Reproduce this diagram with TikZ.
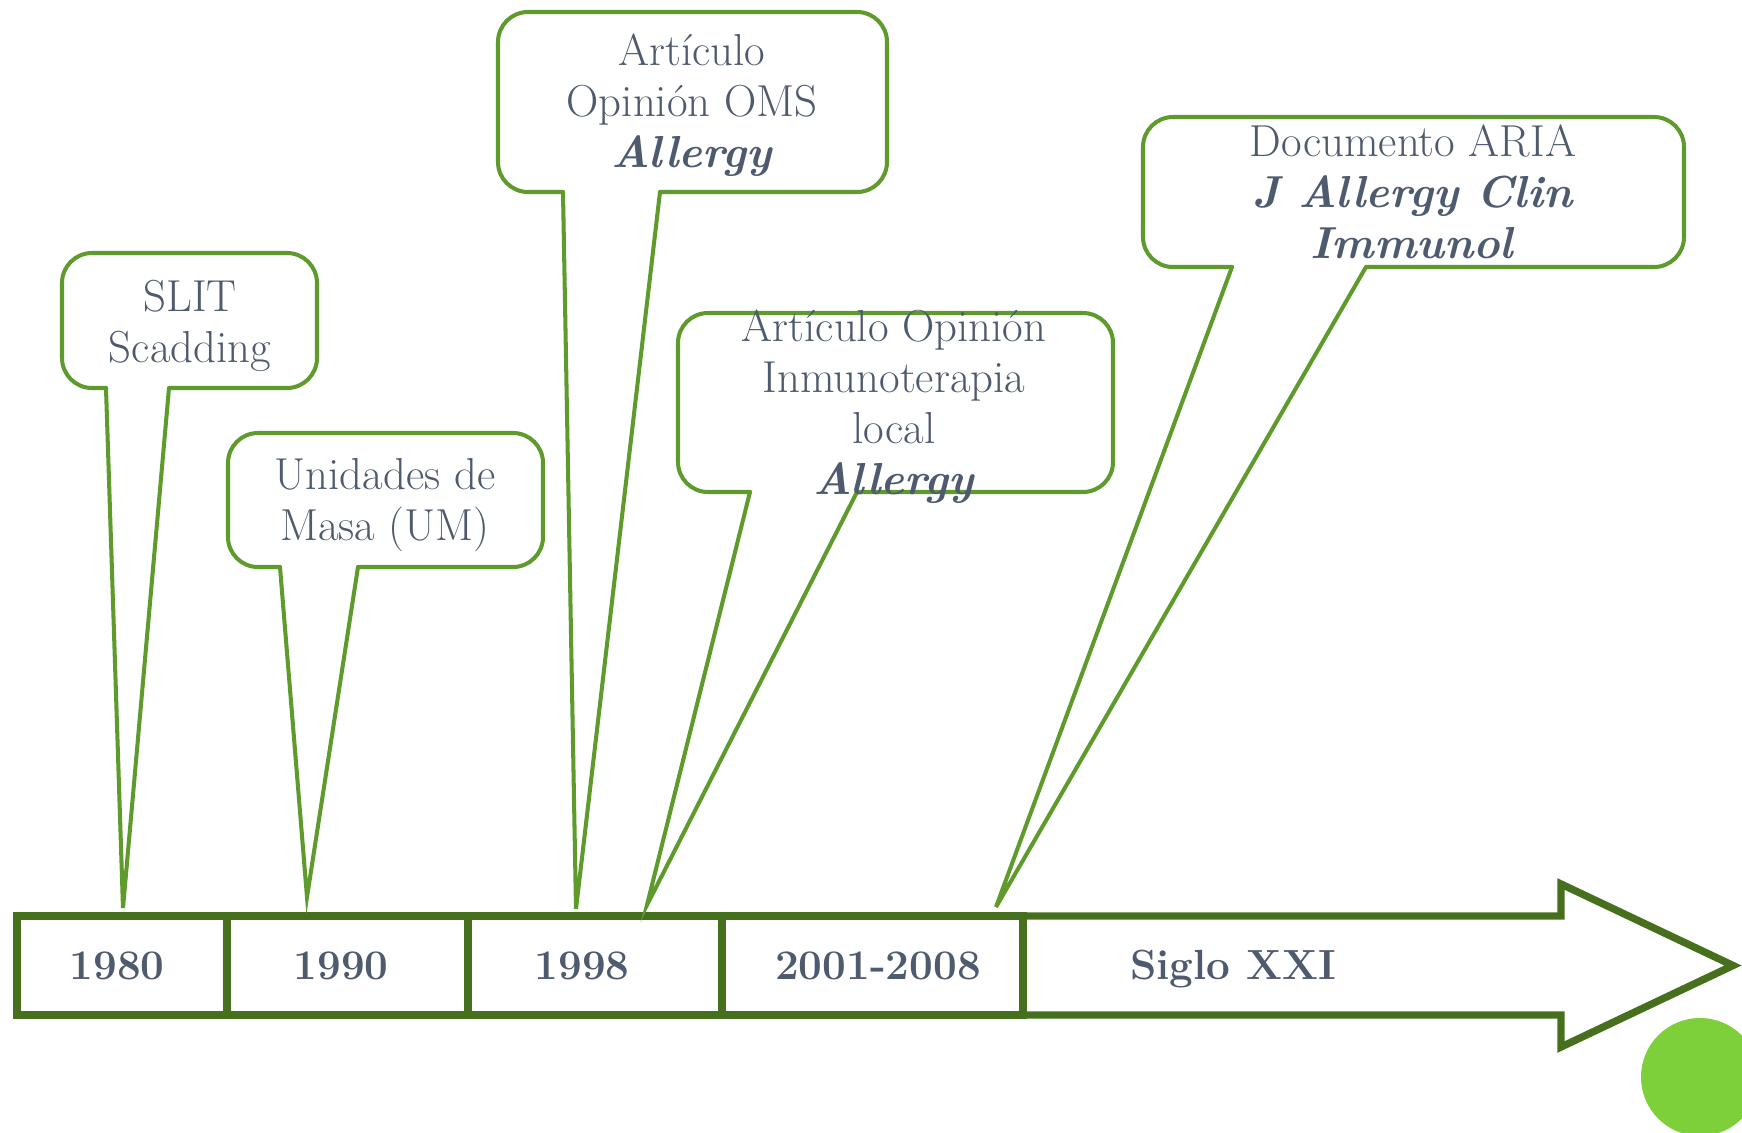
\documentclass[tikz,border=0pt]{standalone}
\usepackage{xcolor}
\usepackage{tikz}
\usetikzlibrary{calc}
\definecolor{BarGreen}{HTML}{46701E}
\definecolor{CalloutGreen}{HTML}{5F9B2C}
\definecolor{TextSlate}{HTML}{4E5A6E}
\definecolor{DotGreen}{HTML}{7ED03A}

\begin{document}
\begin{tikzpicture}[
    x=0.02cm, y=-0.02cm,
    year/.style={
      draw=BarGreen, line width=4.2pt, minimum height=1.98cm,
      inner sep=0pt, outer sep=0pt
    },
    ylbl/.style={font=\fontsize{24}{29}\selectfont\bfseries\color{TextSlate}},
    bar/.style={draw=BarGreen, line width=4.2pt},
    bubble/.style={draw=CalloutGreen, line width=2.3pt, line cap=round, rounded corners=0.6cm},
    tail/.style={draw=CalloutGreen, line width=2.3pt, line cap=round},
    txt/.style={align=center, inner sep=0pt, font=\fontsize{25.5}{29}\selectfont\color{TextSlate}}
  ]
    \useasboundingbox (0,0) rectangle (1742,1133);

    % Timeline
    \node[year, minimum width=4.2cm,  label={[ylbl, xshift=-0.1cm]center:1980}]  (y1980) at (122,965.5)   {};
    \node[year, minimum width=4.82cm, label={[ylbl, xshift=-0.13cm]center:1990}] (y1990) at (347.5,965.5) {};
    \node[year, minimum width=5.08cm, label={[ylbl, xshift=-0.26cm]center:1998}] (y1998) at (595,965.5)   {};
    \node[year, minimum width=6.02cm, label={[ylbl, xshift=0.11cm]center:2001-2008}] (y2001) at (872.5,965.5) {};
    \coordinate (head) at (1733,965.5);
    \draw[bar] (y2001.north east) -- (1561,916) -- (1561,884) -- (head)
               -- (1561,1047) -- (1561,1015) -- (y2001.south east);
    \node[ylbl, anchor=base] (siglo) at (1233,979) {Siglo XXI};

    % Tail points
    \coordinate (slitL) at (106,388);  \coordinate (slitR) at (169,388);  \coordinate (slitTip) at (123,908);
    \coordinate (umL)   at (280,567);  \coordinate (umR)   at (358,567);  \coordinate (umTip)   at (307,897);
    \coordinate (omsL)  at (563,192);  \coordinate (omsR)  at (660,192);  \coordinate (omsTip)  at (576,909);
    \coordinate (locL)  at (750,492);  \coordinate (locR)  at (857,492);  \coordinate (locTip)  at (647,905);
    \coordinate (ariaL) at (1232,267); \coordinate (ariaR) at (1366,267); \coordinate (ariaTip) at (996,907);

    % Bubbles
    \draw[bubble] (slitL) -| (62,253) -| (317,388) -- (slitR);
    \draw[bubble] (umL) -| (228,433) -| (543,567) -- (umR);
    \draw[bubble] (omsL) -| (498,12) -| (887,192) -- (omsR);
    \draw[bubble] (locL) -| (678,313) -| (1113,492) -- (locR);
    \draw[bubble] (ariaL) -| (1143,117) -| (1684,267) -- (ariaR);

    % Tails
    \draw[tail] (slitL) -- (slitTip) -- (slitR);
    \draw[tail] (umL) -- (umTip) -- (umR);
    \draw[tail] (omsL) -- (omsTip) -- (omsR);
    \draw[tail] (locL) -- (locTip) -- (locR);
    \draw[tail] (ariaL) -- (ariaTip) -- (ariaR);

    % Texts
    \node[txt] (slit) at (190,325.5) {SLIT\\Scadding};
    \node[txt] (um)   at (385,505.5) {Unidades de\\Masa (UM)};
    \node[txt] (oms)  at (692,105)   {Artículo\\Opinión OMS\\\textbf{\textit{Allergy}}};
    \node[txt] (loc)  at (894,406.5) {Artículo Opinión\\Inmunoterapia\\local\\\textbf{\textit{Allergy}}};
    \node[txt] (aria) at (1413,192)  {Documento ARIA\\\textbf{\textit{J Allergy Clin}}\\\textbf{\textit{Immunol}}};

    % Dot
    \fill[DotGreen] (1700,1077) circle[radius=59];
  \end{tikzpicture}
\end{document}
